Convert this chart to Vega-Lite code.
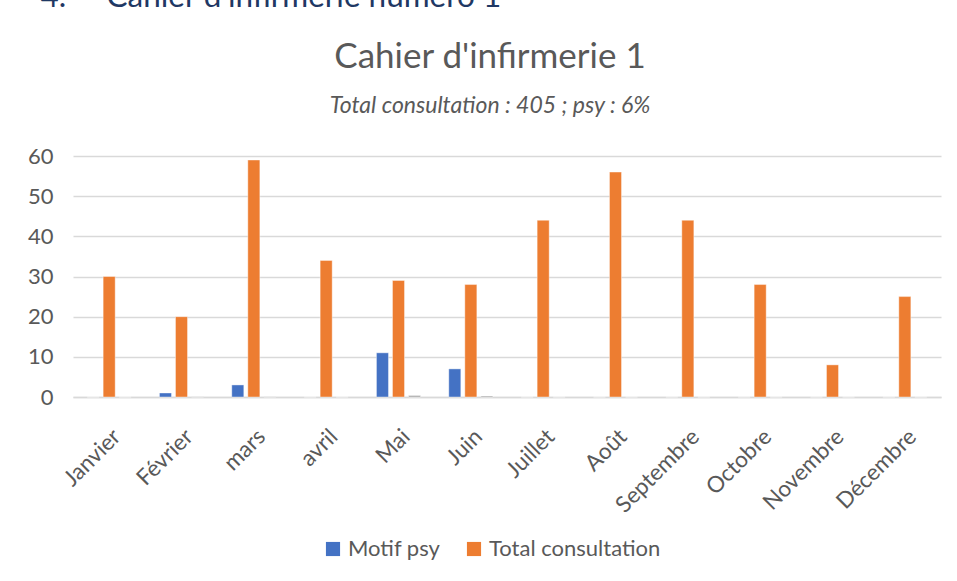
{
  "$schema": "https://vega.github.io/schema/vega-lite/v6.json",
  "autosize": {"type": "none"},
  "width": 868,
  "height": 241,
  "padding": {"left": 73, "top": 156, "right": 16, "bottom": 184},
  "background": "#ffffff",
  "title": {
    "text": "Cahier d'infirmerie 1",
    "subtitle": "Total consultation : 405 ; psy : 6%",
    "anchor": "middle",
    "frame": "group",
    "dx": -17,
    "offset": -137,
    "font": "Lato",
    "fontSize": 35,
    "fontWeight": "normal",
    "color": "#595959",
    "subtitleFont": "Lato",
    "subtitleFontSize": 23,
    "subtitleFontStyle": "italic",
    "subtitleColor": "#595959",
    "subtitlePadding": 20
  },
  "data": {
    "values": [
      {"mois": "Janvier", "serie": "Motif psy", "valeur": 0},
      {"mois": "Janvier", "serie": "Total consultation", "valeur": 30},
      {"mois": "Janvier", "serie": "Part psy", "valeur": 0},
      {"mois": "Février", "serie": "Motif psy", "valeur": 1},
      {"mois": "Février", "serie": "Total consultation", "valeur": 20},
      {"mois": "Février", "serie": "Part psy", "valeur": 0.05},
      {"mois": "mars", "serie": "Motif psy", "valeur": 3},
      {"mois": "mars", "serie": "Total consultation", "valeur": 59},
      {"mois": "mars", "serie": "Part psy", "valeur": 0.05},
      {"mois": "avril", "serie": "Motif psy", "valeur": 0},
      {"mois": "avril", "serie": "Total consultation", "valeur": 34},
      {"mois": "avril", "serie": "Part psy", "valeur": 0},
      {"mois": "Mai", "serie": "Motif psy", "valeur": 11},
      {"mois": "Mai", "serie": "Total consultation", "valeur": 29},
      {"mois": "Mai", "serie": "Part psy", "valeur": 0.38},
      {"mois": "Juin", "serie": "Motif psy", "valeur": 7},
      {"mois": "Juin", "serie": "Total consultation", "valeur": 28},
      {"mois": "Juin", "serie": "Part psy", "valeur": 0.25},
      {"mois": "Juillet", "serie": "Motif psy", "valeur": 0},
      {"mois": "Juillet", "serie": "Total consultation", "valeur": 44},
      {"mois": "Juillet", "serie": "Part psy", "valeur": 0},
      {"mois": "Août", "serie": "Motif psy", "valeur": 0},
      {"mois": "Août", "serie": "Total consultation", "valeur": 56},
      {"mois": "Août", "serie": "Part psy", "valeur": 0},
      {"mois": "Septembre", "serie": "Motif psy", "valeur": 0},
      {"mois": "Septembre", "serie": "Total consultation", "valeur": 44},
      {"mois": "Septembre", "serie": "Part psy", "valeur": 0},
      {"mois": "Octobre", "serie": "Motif psy", "valeur": 0},
      {"mois": "Octobre", "serie": "Total consultation", "valeur": 28},
      {"mois": "Octobre", "serie": "Part psy", "valeur": 0},
      {"mois": "Novembre", "serie": "Motif psy", "valeur": 0},
      {"mois": "Novembre", "serie": "Total consultation", "valeur": 8},
      {"mois": "Novembre", "serie": "Part psy", "valeur": 0},
      {"mois": "Décembre", "serie": "Motif psy", "valeur": 0},
      {"mois": "Décembre", "serie": "Total consultation", "valeur": 25},
      {"mois": "Décembre", "serie": "Part psy", "valeur": 0}
    ]
  },
  "mark": {"type": "bar", "stroke": "#ffffff", "strokeOpacity": 0.5, "strokeWidth": 0.8},
  "encoding": {
    "x": {
      "field": "mois",
      "type": "nominal",
      "sort": ["Janvier", "Février", "mars", "avril", "Mai", "Juin", "Juillet", "Août", "Septembre", "Octobre", "Novembre", "Décembre"],
      "scale": {"paddingInner": 0, "paddingOuter": 0},
      "axis": {
        "title": "4.\u00a0\u00a0\u00a0\u00a0\u00a0Cahier d'infirmerie numéro 1",
        "titleX": -33,
        "titleY": -391,
        "titleAlign": "left",
        "titleAnchor": null,
        "titleBaseline": "alphabetic",
        "titleFont": "Lato",
        "titleFontSize": 31.5,
        "titleFontWeight": "normal",
        "titleColor": "#1F3864",
        "labelAngle": -45,
        "labelFont": "Lato",
        "labelFontSize": 22.5,
        "labelColor": "#595959",
        "labelPadding": 28,
        "labelDx": -5,
        "ticks": false,
        "domainColor": "#D9D9D9",
        "domainWidth": 1.5,
        "grid": false
      }
    },
    "xOffset": {
      "field": "serie",
      "type": "nominal",
      "sort": ["Motif psy", "Total consultation", "Part psy"],
      "scale": {"paddingInner": 0.25, "paddingOuter": 0.88}
    },
    "y": {
      "field": "valeur",
      "type": "quantitative",
      "scale": {"domain": [0, 60]},
      "axis": {
        "title": null,
        "values": [0, 10, 20, 30, 40, 50, 60],
        "labelFont": "Lato",
        "labelFontSize": 22,
        "labelColor": "#595959",
        "labelPadding": 20,
        "ticks": false,
        "domain": false,
        "gridColor": "#D9D9D9",
        "gridWidth": 1.5
      }
    },
    "color": {
      "field": "serie",
      "type": "nominal",
      "scale": {
        "domain": ["Motif psy", "Total consultation", "Part psy"],
        "range": ["#4472C4", "#ED7D31", "#A5A5A5"]
      },
      "legend": {
        "title": null,
        "values": ["Motif psy", "Total consultation"],
        "orient": "none",
        "direction": "horizontal",
        "legendX": 249,
        "legendY": 382,
        "symbolType": "square",
        "symbolSize": 200,
        "symbolStrokeWidth": 0,
        "labelFont": "Lato",
        "labelFontSize": 22,
        "labelLimit": 0,
        "labelColor": "#595959",
        "labelOffset": 4,
        "columnPadding": 22
      }
    }
  },
  "config": {
    "view": {"stroke": null}
  }
}
